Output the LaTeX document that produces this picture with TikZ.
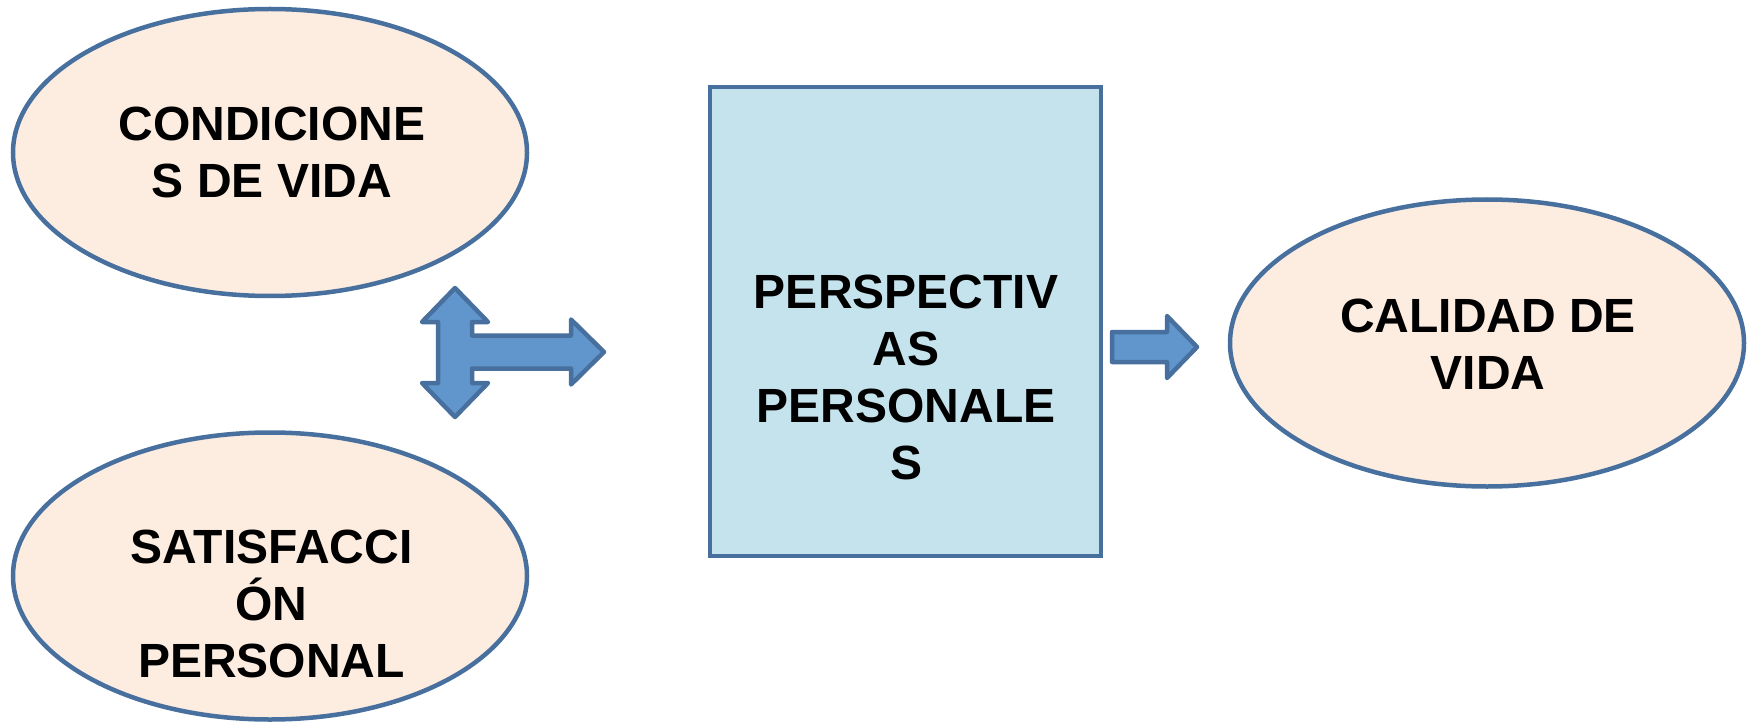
\documentclass[tikz,border=0pt]{standalone}
\usepackage{fontspec}
\setmainfont{Liberation Sans}
\usetikzlibrary{shapes.geometric}
\definecolor{edgeblue}{HTML}{48709E}
\definecolor{peach}{HTML}{FDECE0}
\definecolor{boxblue}{HTML}{C4E3EC}
\definecolor{arrowblue}{HTML}{6096CC}
\tikzset{
  oval/.style={ellipse, draw=edgeblue, fill=peach, line width=4.5pt, minimum width=514pt, minimum height=287pt, inner sep=0pt},
  panel/.style={rectangle, draw=edgeblue, fill=boxblue, line width=4.5pt, minimum width=391pt, minimum height=469pt, inner sep=0pt},
  blockarrow/.style={draw=edgeblue, fill=arrowblue, line width=4.5pt, line join=round},
  txt/.style={anchor=north, inner sep=0pt, align=center, font=\fontsize{48}{57}\selectfont\bfseries}
}
\begin{document}
\begin{tikzpicture}[x=1pt,y=-1pt]
\useasboundingbox (0,0) rectangle (1748,722);
% shapes
\node[oval] (cond) at (270,152.5) {};
\node[oval] (satis) at (270,576) {};
\node[panel] (persp) at (905.5,321.5) {};
\node[oval] (calidad) at (1487,343) {};
% texts
\node[txt] (tcond) at (272,107) {CONDICIONE\\S DE VIDA};
\node[txt] (tsatis) at (271.5,530) {SATISFACCI\\ÓN\\PERSONAL};
\node[txt] (tpersp) at (906,275) {PERSPECTIV\\AS\\PERSONALE\\S};
\node[txt] (tcal) at (1488,299) {CALIDAD DE\\VIDA};
% three-way arrow
\draw[blockarrow] (455,288) -- (488,322) -- (472,322) -- (472,335.5) -- (571,335.5) -- (571,319.5)
  -- (604,352) -- (571,384.5) -- (571,368.5) -- (472,368.5) -- (472,383) -- (488,383)
  -- (455,417) -- (422,383) -- (438,383) -- (438,322) -- (422,322) -- cycle;
% small right arrow
\draw[blockarrow] (1112,332) -- (1167,332) -- (1167,316) -- (1197,347) -- (1167,378)
  -- (1167,362) -- (1112,362) -- cycle;
\end{tikzpicture}
\end{document}
